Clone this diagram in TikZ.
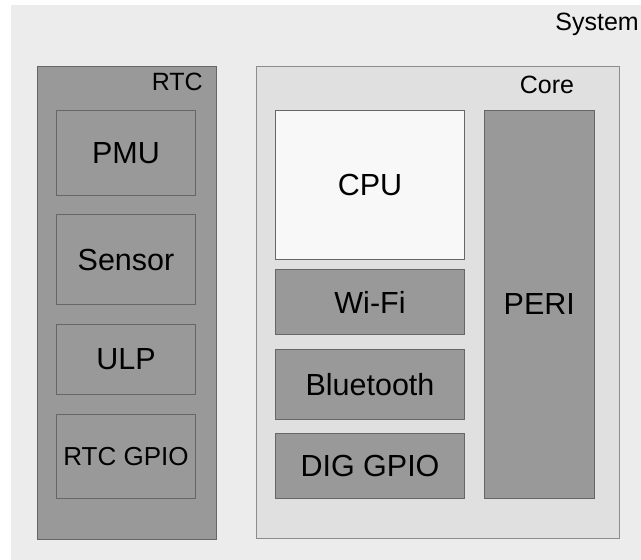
\documentclass[tikz,border=0pt]{standalone}
\usepackage{fontspec}
\setmainfont{Liberation Sans}
\definecolor{sysbg}{HTML}{ECECEC}
\definecolor{corebg}{HTML}{E0E0E0}
\definecolor{midgray}{HTML}{999999}
\definecolor{cpubg}{HTML}{F8F8F8}
\definecolor{edge}{HTML}{666666}
\definecolor{coreedge}{HTML}{8C8C8C}
\tikzset{
  x=1pt, y=-1pt,
  blk/.style={draw=edge, line width=1.1pt, fill=midgray, rectangle, inner sep=0pt,
    font=\fontsize{30.5}{36}\selectfont},
  smalllbl/.style={font=\fontsize{25}{30}\selectfont, inner sep=0pt, anchor=base east},
}
\begin{document}
\begin{tikzpicture}
\useasboundingbox (0,0) rectangle (641,560);
\fill[white] (0,0) rectangle (641,560);
% System
\node[fill=sysbg, draw=none, rectangle, inner sep=0pt, anchor=north west,
  minimum width=630pt, minimum height=555pt] (system) at (11,5) {};
\node[smalllbl] (systemlbl) at (639,30.5) {System};
% RTC
\node[draw=edge, line width=1.1pt, fill=midgray, inner sep=0pt, anchor=north west,
  minimum width=179.5pt, minimum height=473pt] (rtc) at (36.5,65.5) {};
\node[smalllbl] (rtclbl) at (203,90.7) {RTC};
\node[blk, minimum width=139.5pt, minimum height=84.7pt] (pmu) at (126,152.7) {PMU};
\node[blk, minimum width=139.5pt, minimum height=89.6pt] (sensor) at (126,259.5) {Sensor};
\node[blk, minimum width=139.5pt, minimum height=70pt] (ulp) at (126,359.3) {ULP};
\node[blk, minimum width=139.5pt, minimum height=84.4pt,
  font=\fontsize{26}{31}\selectfont] (rtcgpio) at (126,456.5) {RTC GPIO};
% Core
\node[draw=coreedge, line width=1.1pt, fill=corebg, inner sep=0pt, anchor=north west,
  minimum width=363.7pt, minimum height=472.7pt] (core) at (255.5,65.5) {};
\node[smalllbl] (corelbl) at (574.3,93.3) {Core};
\node[blk, fill=cpubg, minimum width=189.4pt, minimum height=149.4pt] (cpu) at (370,185) {CPU};
\node[blk, minimum width=189.4pt, minimum height=64.6pt] (wifi) at (370,302) {Wi-Fi};
\node[blk, minimum width=189.4pt, minimum height=70pt] (bt) at (370,384.3) {Bluetooth};
\node[blk, minimum width=189.4pt, minimum height=65pt] (diggpio) at (370,466.2) {DIG GPIO};
\node[blk, minimum width=110pt, minimum height=388.4pt] (peri) at (539.3,304.5) {PERI};
\end{tikzpicture}
\end{document}
